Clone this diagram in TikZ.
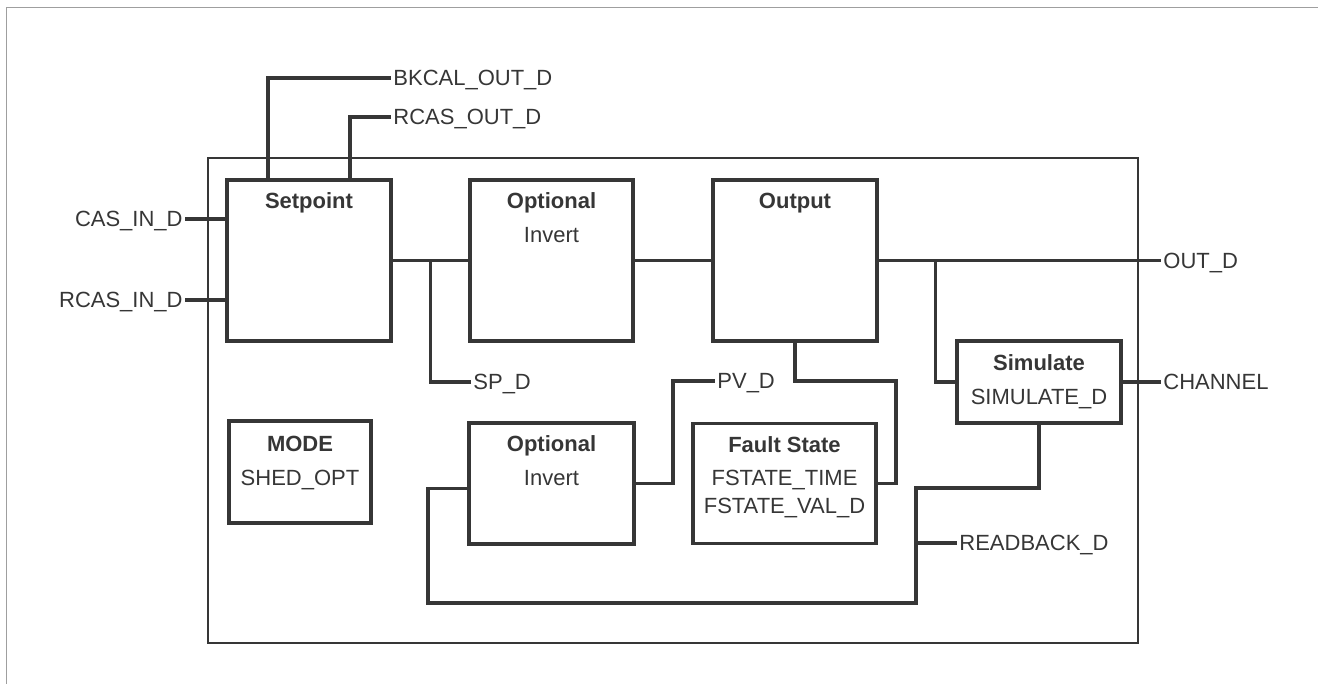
\documentclass[tikz,border=0pt]{standalone}
\usepackage{fontspec}
\setmainfont{Liberation Sans}
\usetikzlibrary{positioning, calc}
\definecolor{ink}{HTML}{363636}

\begin{document}
\begin{tikzpicture}[
        x=0.5pt, y=-0.5pt,
        font=\fontsize{11}{13}\selectfont, text=ink,
        blk/.style={rectangle, draw=ink, line width=1.7pt, inner sep=0pt, outer sep=0pt},
        title/.style={inner sep=0pt, text height=7.9pt, text depth=0pt, font=\fontsize{11}{13}\selectfont\bfseries},
        field/.style={inner sep=0pt, text height=7.9pt, text depth=0pt},
        sig/.style={inner xsep=1pt, inner ysep=0pt, text height=7.9pt, text depth=0pt},
        wire/.style={draw=ink, line width=1.6pt},
        frame/.style={draw=ink, line width=1.1pt}
    ]
        \useasboundingbox (0,0) rectangle (1318,684);
        \draw[gray!75, line width=0.5pt] (6,684) -- (6,8) -- (1318,8);
        \draw[frame] (208,158) rectangle (1138,643);

        % function blocks
        \node[blk, minimum width=82pt, minimum height=80.5pt] (setp) at (309,260.5) {};
        \node[blk, minimum width=81.5pt, minimum height=80.5pt, right=39.5pt of setp] (opt1) {};
        \node[blk, minimum width=82pt, minimum height=80.5pt, right=40pt of opt1] (outp) {};
        \node[blk, minimum width=82pt, minimum height=41pt] (simu) at (1039,382) {};
        \node[blk, minimum width=71pt, minimum height=51pt] (mode) at (300,472) {};
        \node[blk, minimum width=82.5pt, minimum height=60.5pt, below=41pt of opt1] (opt2) {};
        \node[blk, minimum width=91.5pt, minimum height=60pt, right=29.5pt of opt2] (fault) {};

        \node[title] (setpT) at ($(setp.north)+(0,21)$) {Setpoint};
        \node[title] (opt1T) at ($(opt1.north)+(0,21)$) {Optional};
        \node[field] (opt1F) at ($(opt1.north)+(0,55)$) {Invert};
        \node[title] (outpT) at ($(outp.north)+(0,21)$) {Output};
        \node[title] (simuT) at ($(simu.north)+(0,22)$) {Simulate};
        \node[field] (simuF) at ($(simu.north)+(0,56)$) {SIMULATE\_D};
        \node[title] (modeT) at ($(mode.north)+(0,23)$) {MODE};
        \node[field] (modeF) at ($(mode.north)+(0,57)$) {SHED\_OPT};
        \node[title] (opt2T) at ($(opt2.north)+(0,21)$) {Optional};
        \node[field] (opt2F) at ($(opt2.north)+(0,55)$) {Invert};
        \node[title] (faultT) at ($(fault.north)+(0,21)$) {Fault State};
        \node[field] (faultF) at ($(fault.north)+(0,54)$) {FSTATE\_TIME};
        \node[field] (faultG) at ($(fault.north)+(0,82)$) {FSTATE\_VAL\_D};

        % signal names
        \node[sig, anchor=east] (casin) at (185,219) {CAS\_IN\_D};
        \node[sig, anchor=east] (rcasin) at (185,300) {RCAS\_IN\_D};
        \node[sig, anchor=west] (bkcal) at (391,78) {BKCAL\_OUT\_D};
        \node[sig, anchor=west] (rcasout) at (391,117) {RCAS\_OUT\_D};
        \node[sig, anchor=west] (spd) at (471,382) {SP\_D};
        \node[sig, anchor=west] (pvd) at (715,381) {PV\_D};
        \node[sig, anchor=west] (outd) at (1161,260.5) {OUT\_D};
        \node[sig, anchor=west] (chan) at (1161,382) {CHANNEL};
        \node[sig, anchor=west] (rdbk) at (957,543) {READBACK\_D};
        \coordinate (rbk) at ($(rdbk.west)+(-41,0)$);

        % connections
        \draw[wire] ($(setp.north west)!0.25!(setp.north east)$) |- (bkcal.west);
        \draw[wire] ($(setp.north west)!0.75!(setp.north east)$) |- (rcasout.west);
        \draw[wire] (casin.east) -- (casin.east -| setp.west);
        \draw[wire] (rcasin.east) -- (rcasin.east -| setp.west);
        \draw[wire] (setp.east) -- (opt1.west);
        \draw[wire] ($(setp.east)!0.5!(opt1.west)$) |- (spd.west);
        \draw[wire] (opt1.east) -- (outp.west);
        \draw[wire] (outp.east) -- (outd.west);
        \draw[wire] (simu.west) -| ($(outp.east)!0.207!(outd.west)$);
        \draw[wire] (simu.east) -- (chan.west);
        \draw[wire] (opt2.east) -- ++(39,0) |- (pvd.west);
        \draw[wire] (outp.south) -- ++(0,40) -| ($(fault.east)+(20,0)$) -- (fault.east);
        \draw[wire] (simu.south) |- ($(rbk)+(0,-55)$) -- ($(rbk)+(0,60)$) -| ($(opt2.west)+(-41,5)$) -- ($(opt2.west)+(0,5)$);
        \draw[wire] (rbk) -- (rdbk.west);
    \end{tikzpicture}
\end{document}
